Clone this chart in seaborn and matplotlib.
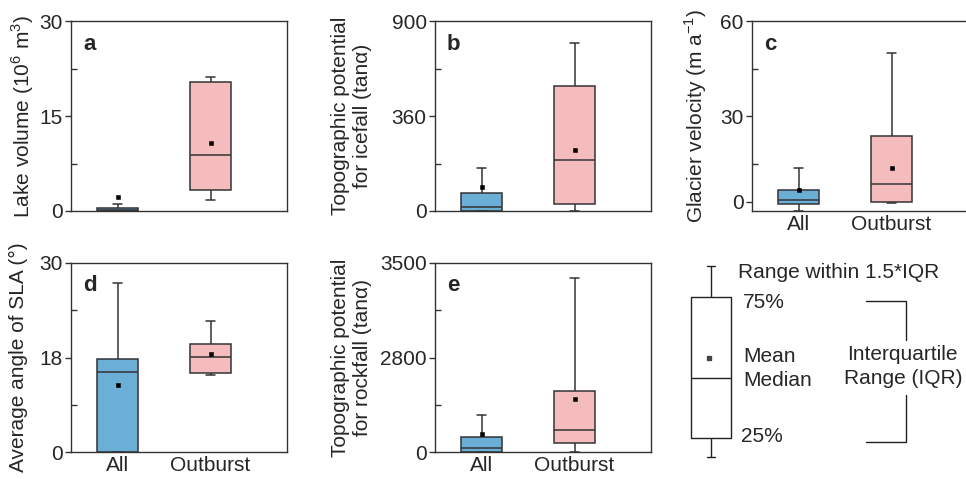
import numpy as np
import pandas as pd
import matplotlib
matplotlib.use("Agg")
import matplotlib.pyplot as plt
import seaborn as sns

sns.set_style("ticks")
plt.rcParams['font.family'] = ['Liberation Sans', 'DejaVu Sans']
plt.rcParams['mathtext.fontset'] = 'custom'
plt.rcParams['mathtext.rm'] = 'Liberation Sans'
plt.rcParams['font.size'] = 15
plt.rcParams['axes.edgecolor'] = '#333333'
plt.rcParams['axes.linewidth'] = 1.0

EDGE = '#333333'

groups = ["All", "Outburst"]
colors = ["#6BAED6", "#F4BCBC"]

# five-number summaries: min, q1, median, q3, max
lake_all = [0.0, 0.05, 0.2, 0.47, 1.16]
lake_out = [1.7, 3.3, 8.8, 20.3, 21.1]
lake_mean = [2.2, 10.8]

icefall_all = [0, 0, 16, 67, 162]
icefall_out = [0, 26, 193, 531, 777]
icefall_mean = [92, 231]

velocity_all = [-3.2, -0.9, 0.6, 4.1, 11.9]
velocity_out = [-0.6, -0.2, 6.1, 23.1, 49.8]
velocity_mean = [4.1, 11.7]

sla_all = [0, 0, 15.2, 17.8, 27.5]
sla_out = [14.7, 15.0, 18.1, 19.7, 22.6]
sla_mean = [12.7, 18.4]

rockfall_all = [0, 10, 130, 450, 1110]
rockfall_out = [0, 270, 660, 1820, 3389]
rockfall_mean = [530, 1560]

# labelled y ticks: bottom, middle (drawn halfway up), top
lake_ticks = [0, 15, 30]
icefall_ticks = [0, 360, 900]
velocity_ticks = [0, 30, 60]
sla_ticks = [0, 18, 30]
rockfall_ticks = [0, 2800, 3500]

W, H = 966, 479
STEP = 93  # pixels between the two boxes


def px_rect(left, top, width, height):
    return [left / W, (H - top - height) / H, width / W, height / H]


def split_scale(lo, mid, hi):
    """Two linear pieces: lo..mid fills the lower half, mid..hi the upper half."""
    def fwd(y):
        y = np.asarray(y, dtype=float)
        return np.where(y <= mid, 0.5 * (y - lo) / (mid - lo),
                        0.5 + 0.5 * (y - mid) / (hi - mid))

    def inv(v):
        v = np.asarray(v, dtype=float)
        return np.where(v <= 0.5, lo + 2 * v * (mid - lo),
                        mid + 2 * (v - 0.5) * (hi - mid))
    return fwd, inv


def draw_panel(ax, width_px, all_vals, out_vals, means, ticks, ylabel, letter,
               label_x, bottom=None, show_x=True):
    df = pd.DataFrame({"group": np.repeat(groups, len(all_vals)),
                       "value": list(all_vals) + list(out_vals)})
    lo = ticks[0] if bottom is None else bottom
    sns.boxplot(data=df, x="group", y="value", hue="group", palette=colors,
                saturation=1, whis=(0, 100), width=0.45, linecolor=EDGE,
                linewidth=1.1, fliersize=0, capwidths=0.09, legend=False, ax=ax)
    sns.pointplot(x=groups, y=means, color="k", marker="s", markersize=2.4,
                  markeredgewidth=0.4, linestyle="none", errorbar=None,
                  zorder=5, ax=ax)

    fwd, inv = split_scale(lo, ticks[1], ticks[2])
    ax.set_yscale("function", functions=(fwd, inv))
    ax.set_ylim(lo, ticks[2])
    ax.set_xlim(-0.5, -0.5 + width_px / STEP)
    ax.set_yticks(ticks)
    ax.set_yticklabels([str(t) for t in ticks])
    ax.set_yticks([(lo + ticks[1]) / 2, (ticks[1] + ticks[2]) / 2], minor=True)
    ax.tick_params(axis='y', which='major', direction='out', length=4,
                   width=1, color=EDGE, pad=2)
    ax.tick_params(axis='y', which='minor', direction='in', length=4,
                   width=1, color=EDGE)
    ax.tick_params(axis='x', length=0, pad=3)
    if not show_x:
        ax.set_xticklabels([])
    ax.set_xlabel("")
    ax.set_ylabel(ylabel)
    ax.yaxis.set_label_coords(label_x * 216 / width_px, 0.5)
    ax.text(12 / width_px, 0.85, letter, transform=ax.transAxes, fontsize=16,
            fontweight='bold', ha='left', va='baseline')
    for s in ax.spines.values():
        s.set_visible(True)


fig = plt.figure(figsize=(W / 100, H / 100), dpi=100)

ax_a = fig.add_axes(px_rect(71, 21, 216, 190))
ax_b = fig.add_axes(px_rect(435, 21, 216, 190))
ax_c = fig.add_axes(px_rect(752, 21, 224, 190))  # runs off the right edge
ax_d = fig.add_axes(px_rect(71, 263, 216, 189))
ax_e = fig.add_axes(px_rect(435, 263, 216, 189))

draw_panel(ax_a, 216, lake_all, lake_out, lake_mean, lake_ticks,
           r'Lake volume (10$^\mathregular{6}$ m$^\mathregular{3}$)', 'a',
           -0.16, show_x=False)
draw_panel(ax_b, 216, icefall_all, icefall_out, icefall_mean, icefall_ticks,
           'Topographic potential\nfor icefall (tanα)', 'b', -0.29, show_x=False)
draw_panel(ax_c, 224, velocity_all, velocity_out, velocity_mean, velocity_ticks,
           r'Glacier velocity (m a$^\mathregular{-1}$)', 'c', -0.2, bottom=-3.3)
draw_panel(ax_d, 216, sla_all, sla_out, sla_mean, sla_ticks,
           'Average angle of SLA (°)', 'd', -0.2)
draw_panel(ax_e, 216, rockfall_all, rockfall_out, rockfall_mean, rockfall_ticks,
           'Topographic potential\nfor rockfall (tanα)', 'e', -0.29)

# explanatory box sketch, drawn in pixel units of the figure
leg = fig.add_axes(px_rect(660, 250, 306, 229))
sns.boxplot(x=[711] * 5, y=[457, 438, 378, 297, 266], native_scale=True,
            orient="x", width=40, whis=(0, 100), color="white", saturation=1,
            linecolor="#222222", linewidth=1.0, capwidths=8, fliersize=0,
            ax=leg)
leg.plot([709], [358], marker="s", color="#444444", markersize=2.4,
         linestyle="none", zorder=5)
leg.set_xlim(660, 966)
leg.set_ylim(479, 250)
leg.set_axis_off()

leg.text(738, 272, "Range within 1.5*IQR", ha="left", va="center")
leg.text(743, 302, "75%", ha="left", va="center")
leg.text(743, 356, "Mean", ha="left", va="center")
leg.text(743, 380, "Median", ha="left", va="center")
leg.text(741, 437, "25%", ha="left", va="center")
leg.text(902, 355, "Interquartile", ha="center", va="center")
leg.text(903, 379, "Range (IQR)", ha="center", va="center")
leg.plot([866, 906, 906], [301, 301, 340], color="#222222", lw=1.0)
leg.plot([906, 906, 866], [395, 442, 442], color="#222222", lw=1.0)

fig.savefig("out.png", dpi=100)
plt.close(fig)
